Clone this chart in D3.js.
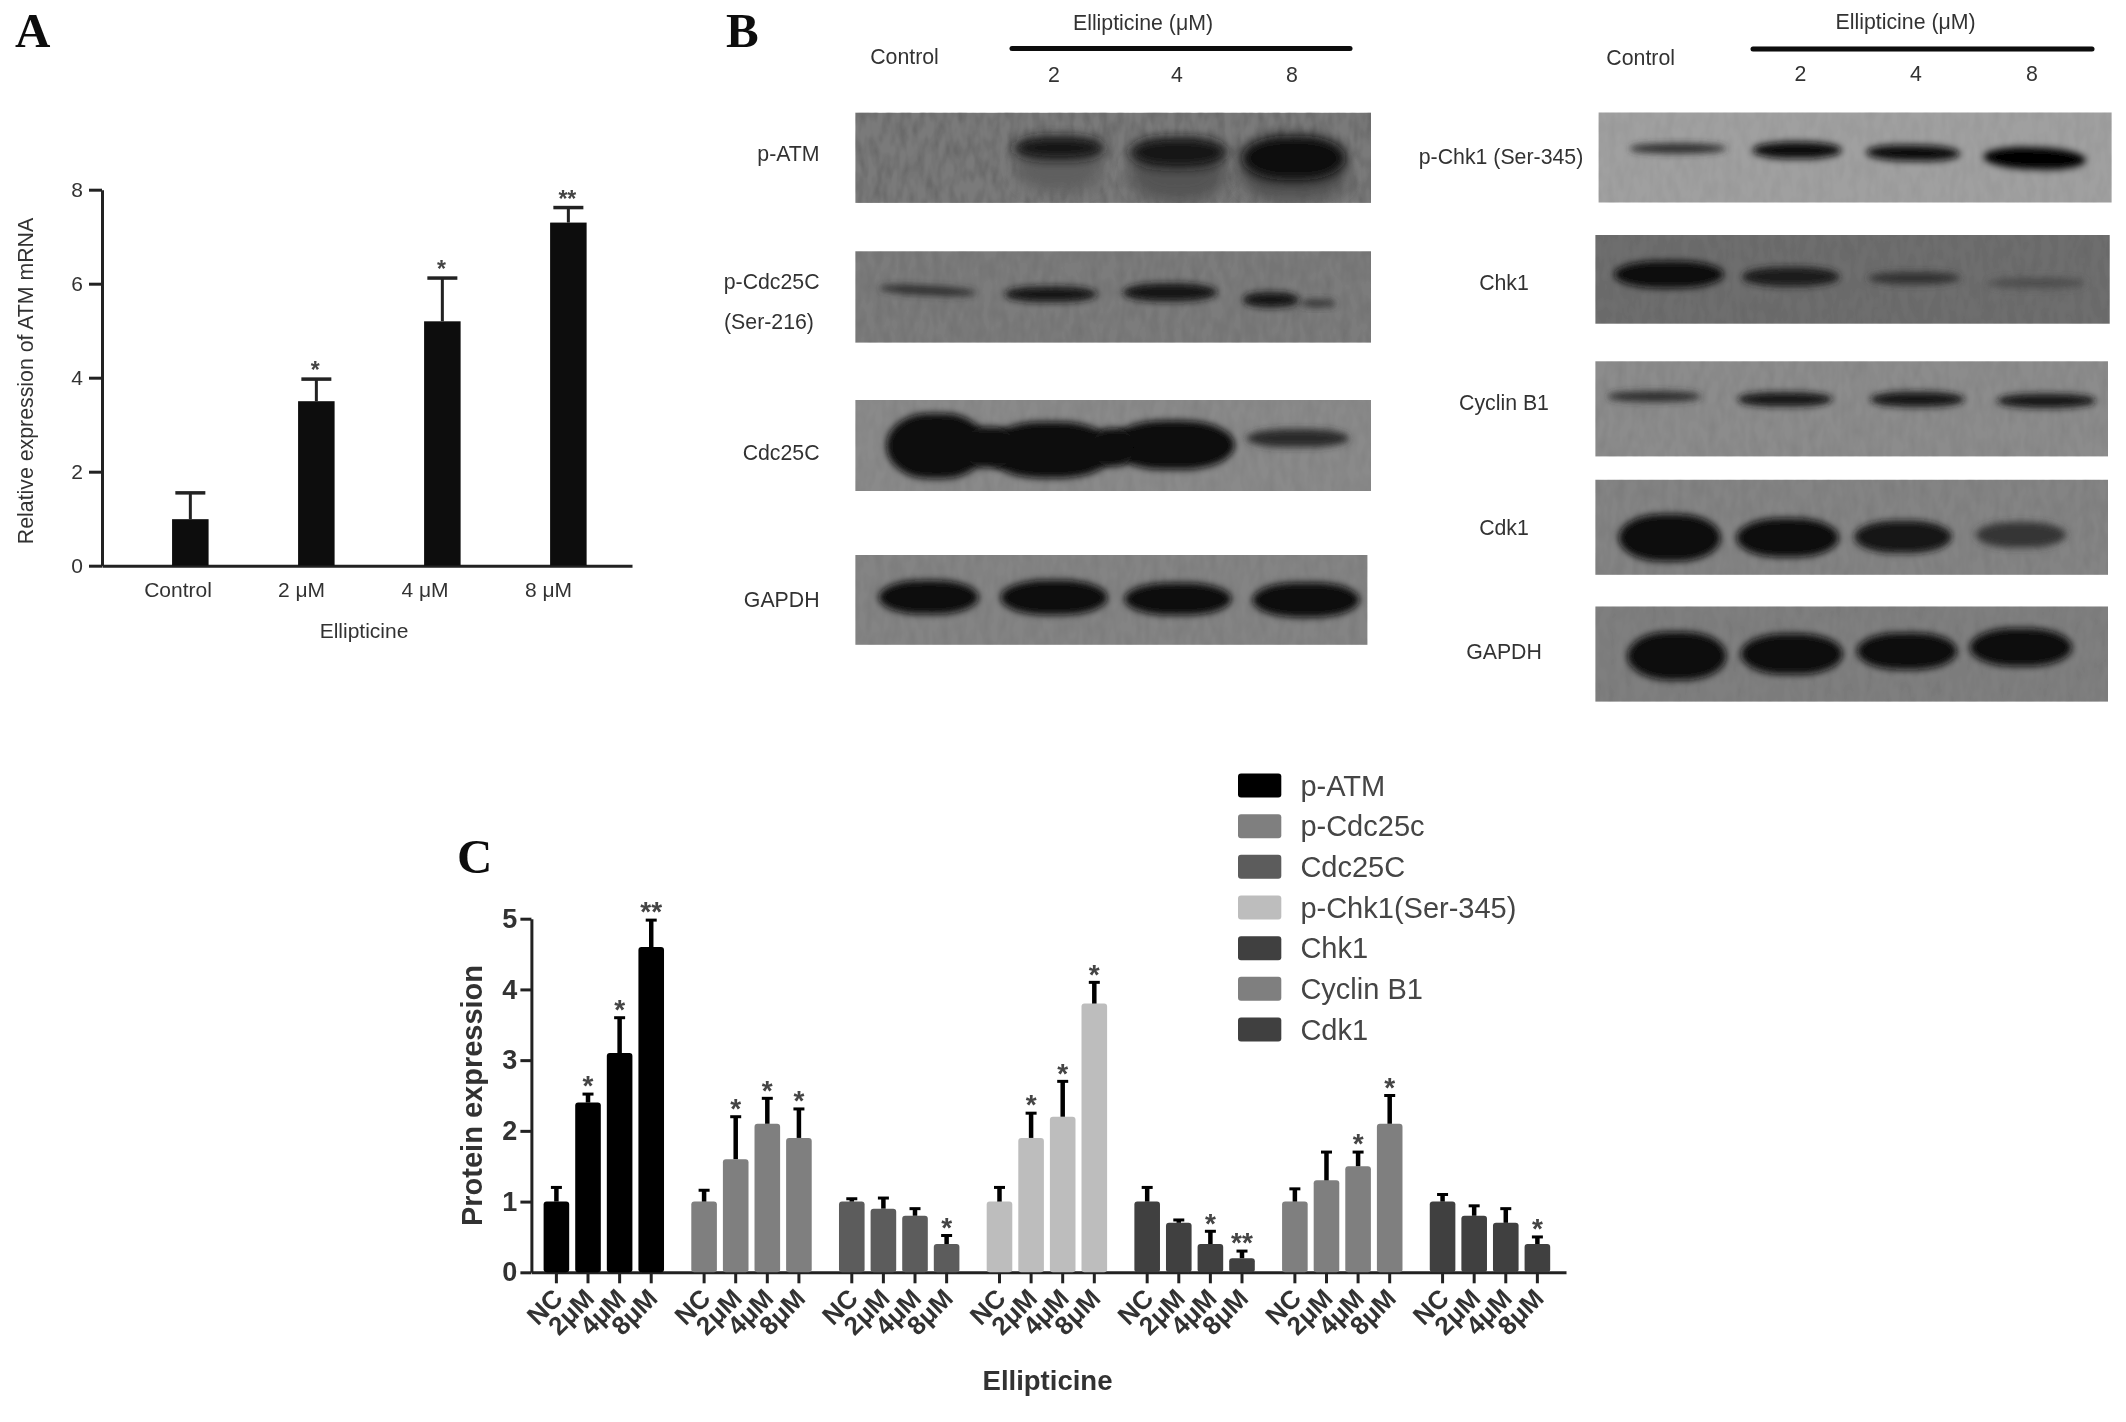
<!DOCTYPE html>
<html>
<head>
<meta charset="utf-8">
<script src="https://cdn.jsdelivr.net/npm/d3@7"></script>
<style>
  html, body { margin: 0; padding: 0; background: #fff; }
  svg { display: block; }
  text { font-family: "Liberation Sans", Arial, sans-serif; fill: #333; }
</style>
</head>
<body>
<div id="fig"></div>
<script>
// panel A
var mrnaLabels = ["Control", "2 μM", "4 μM", "8 μM"];
var mrnaValues = [0.99, 3.5, 5.2, 7.3];
var mrnaErrTop = [1.55, 3.97, 6.12, 7.62];
var mrnaStars = ["", "*", "*", "**"];
var mrnaTicks = [0, 2, 4, 6, 8];

// panel C
var proteins = ["p-ATM", "p-Cdc25c", "Cdc25C", "p-Chk1(Ser-345)", "Chk1", "Cyclin B1", "Cdk1"];
var doses = ["NC", "2μM", "4μM", "8μM"];
var proteinColors = ["#000000", "#7f7f7f", "#5c5c5c", "#bdbdbd", "#3f3f3f", "#7f7f7f", "#3f3f3f"];
var proteinValues = [
  [1.0, 2.4, 3.1, 4.6],
  [1.0, 1.6, 2.1, 1.9],
  [1.0, 0.9, 0.8, 0.4],
  [1.0, 1.9, 2.2, 3.8],
  [1.0, 0.7, 0.4, 0.2],
  [1.0, 1.3, 1.5, 2.1],
  [1.0, 0.8, 0.7, 0.4]
];
var proteinErrTop = [
  [1.2, 2.52, 3.6, 4.98],
  [1.16, 2.2, 2.46, 2.31],
  [1.04, 1.05, 0.9, 0.52],
  [1.2, 2.25, 2.7, 4.1],
  [1.2, 0.74, 0.58, 0.3],
  [1.18, 1.7, 1.7, 2.5],
  [1.1, 0.94, 0.9, 0.5]
];
var proteinStars = [
  ["", "*", "*", "**"],
  ["", "*", "*", "*"],
  ["", "", "", "*"],
  ["", "*", "*", "*"],
  ["", "", "*", "**"],
  ["", "", "*", "*"],
  ["", "", "", "*"]
];
var proteinTicks = [0, 1, 2, 3, 4, 5];

var svg = d3.select("#fig").append("svg")
  .attr("width", 2126)
  .attr("height", 1422);

var defs = svg.append("defs");
defs.append("filter").attr("id", "soft")
  .append("feGaussianBlur").attr("stdDeviation", 0.7);
function blurFilter(id, dev) {
  defs.append("filter").attr("id", id)
    .attr("x", "-30%").attr("y", "-80%").attr("width", "160%").attr("height", "260%")
    .append("feGaussianBlur").attr("stdDeviation", dev);
}
blurFilter("bandBlur", 3.6);
blurFilter("atmBlur", 5.5);
blurFilter("smearBlur", 8);
// film grain for the blots
var grain = defs.append("filter").attr("id", "grain");
grain.append("feTurbulence").attr("type", "fractalNoise")
  .attr("baseFrequency", "0.12 0.05").attr("numOctaves", 2).attr("seed", 4);
grain.append("feColorMatrix").attr("type", "matrix")
  .attr("values", "0 0 0 0 0  0 0 0 0 0  0 0 0 0 0  0 0 0 1.3 -0.45");

var page = svg.append("g").attr("filter", "url(#soft)");

function panelLetter(txt, x, y) {
  page.append("text").attr("x", x).attr("y", y)
    .style("font-family", '"Liberation Serif", serif')
    .style("font-weight", "bold")
    .style("font-size", "49px")
    .style("fill", "#111")
    .text(txt);
}
panelLetter("A", 15, 47);
panelLetter("B", 726, 47);
panelLetter("C", 457, 873);

function styleAxis(g, width) {
  g.selectAll(".domain").attr("stroke", "#222").attr("stroke-width", width);
  g.selectAll(".tick line").attr("stroke", "#222").attr("stroke-width", width);
}

// asterisks sit high in the em box, so shift the baseline down
function stars(g, x, y, txt, size) {
  g.append("text")
    .attr("x", x)
    .attr("y", y + size * 0.58)
    .attr("text-anchor", "middle")
    .style("font-size", size + "px")
    .style("font-weight", "bold")
    .style("fill", "#444")
    .text(txt);
}

// ---------- A ----------
var a = page.append("g");
var ax = d3.scaleBand().domain(mrnaLabels).range([102, 632])
  .paddingInner(0.71).paddingOuter(0.458).align(0.607);
var ay = d3.scaleLinear().domain([0, 8]).range([565.7, 189.7]);
var axLabel = d3.scalePoint().domain(mrnaLabels).range([178, 548.5]);

var ayAxis = a.append("g").attr("transform", "translate(102,0)")
  .call(d3.axisLeft(ay).tickValues(mrnaTicks).tickSize(13).tickSizeOuter(0).tickPadding(6));
styleAxis(ayAxis, 3);
ayAxis.selectAll("text").style("font-size", "21px");

var axAxis = a.append("g").attr("transform", "translate(0,565.7)")
  .call(d3.axisBottom(ax).tickSize(0).tickSizeOuter(0).tickPadding(16));
styleAxis(axAxis, 3);
axAxis.selectAll(".tick").attr("transform", function(d) { return "translate(" + axLabel(d) + ",0)"; });
axAxis.selectAll("text").style("font-size", "21px");

a.selectAll(".bar").data(mrnaLabels).enter().append("rect")
  .attr("x", function(d) { return ax(d); })
  .attr("width", ax.bandwidth())
  .attr("y", function(d, i) { return ay(mrnaValues[i]); })
  .attr("height", function(d, i) { return ay(0) - ay(mrnaValues[i]); })
  .attr("fill", "#111");

mrnaLabels.forEach(function(d, i) {
  var cx = ax(d) + ax.bandwidth() / 2;
  a.append("line").attr("x1", cx).attr("x2", cx)
    .attr("y1", ay(mrnaValues[i])).attr("y2", ay(mrnaErrTop[i]))
    .attr("stroke", "#222").attr("stroke-width", 3);
  a.append("line").attr("x1", cx - 15).attr("x2", cx + 15)
    .attr("y1", ay(mrnaErrTop[i])).attr("y2", ay(mrnaErrTop[i]))
    .attr("stroke", "#222").attr("stroke-width", 3.5);
  if (mrnaStars[i]) stars(a, cx - 1, ay(mrnaErrTop[i]) - 14, mrnaStars[i], 23);
});

a.append("text")
  .attr("transform", "translate(26,381) rotate(-90)")
  .attr("text-anchor", "middle")
  .attr("dy", "0.35em")
  .style("font-size", "21.3px")
  .text("Relative expression of ATM mRNA");
a.append("text").attr("x", 364).attr("y", 638)
  .attr("text-anchor", "middle")
  .style("font-size", "21px")
  .text("Ellipticine");

// ---------- B ----------
// frame in page px, bands as [cx%, cy%, w%, h%, tone, tilt] inside the frame,
// smears are the faint lane marks under the bands
var blotShapes = [
  { x: [855.4, 1371], y: [112.8, 202.9], bg: "#7a7a7a", grain: 0.22,
    smears: [[39.5, 60, 17, 55, "#5e5e5e", 0], [62.6, 68, 19, 62, "#525252", 0], [85, 70, 21, 55, "#505050", 0]],
    bands: [[39.5, 39, 18, 26, "#161616", 0], [62.6, 44, 19, 34, "#121212", 0], [85, 50, 20.5, 50, "#070707", 0]] },
  { x: [855.4, 1371], y: [251.3, 342.6], bg: "#7b7b7b", grain: 0.1,
    bands: [[14, 43, 19, 10, "#2c2c2c", 3], [37.9, 47, 18, 17, "#161616", 0], [61, 45, 18.4, 20, "#141414", 0],
    [80.6, 53, 11, 17, "#161616", 0], [89.7, 57, 7, 8, "#333333", 0]] },
  { x: [855.4, 1371], y: [400, 491], bg: "#8a8a8a", grain: 0.08,
    bands: [[15.7, 50.5, 19.5, 72, "#0b0b0b", 0], [37.8, 55, 25, 62, "#0b0b0b", 0], [61.6, 49.5, 24, 54, "#0d0d0d", 0],
    [26, 52, 10, 45, "#0b0b0b", 0], [50, 52, 8, 42, "#0b0b0b", 0], [85.8, 42, 20, 20, "#2c2c2c", 0]] },
  { x: [855.4, 1367.4], y: [555, 644.8], bg: "#848484", grain: 0.08,
    bands: [[14.3, 47, 19.6, 38, "#0c0c0c", 0], [38.8, 47.4, 21, 39, "#0c0c0c", 0], [63, 49, 21, 36, "#0c0c0c", 0],
    [88, 50, 21, 39, "#0c0c0c", 0]] },
  { x: [1598.6, 2111.6], y: [112.5, 202.5], bg: "#a0a0a0", grain: 0.06,
    bands: [[15.4, 40, 19, 11, "#2c2c2c", 0], [38.7, 42, 17.4, 19, "#0c0c0c", 0], [61.3, 45, 18.5, 18, "#0c0c0c", 1],
    [85, 51, 20, 24, "#050505", 2]] },
  { x: [1595.4, 2109.7], y: [235, 323.7], bg: "#6e6e6e", grain: 0.08,
    bands: [[14.3, 44.5, 21.4, 31, "#0e0e0e", 0], [38, 47, 19, 22, "#1c1c1c", 0], [62, 48.7, 18, 14, "#333333", 0],
    [85.8, 54, 19, 12, "#4e4e4e", 0]] },
  { x: [1595.4, 2108], y: [361.3, 456.4], bg: "#8c8c8c", grain: 0.08,
    bands: [[11.5, 37, 18.4, 11, "#2c2c2c", 0], [37, 40, 18.6, 15, "#181818", 0], [62.8, 40, 18.5, 16, "#181818", 0],
    [88, 41.5, 19.4, 15, "#181818", 0]] },
  { x: [1595.4, 2108], y: [479.8, 574.8], bg: "#848484", grain: 0.08,
    bands: [[14.5, 61, 20, 50, "#090909", 0], [37.5, 61, 20, 41, "#0d0d0d", 0], [60, 60, 19, 34, "#121212", 0],
    [83, 58, 17.6, 27, "#363636", 0]] },
  { x: [1595.4, 2108], y: [606.5, 701.6], bg: "#7f7f7f", grain: 0.08,
    bands: [[15.9, 52, 19.4, 51, "#0c0c0c", 0], [38.3, 50, 20, 43, "#0c0c0c", 0], [60.8, 47, 19.6, 39, "#0c0c0c", 0],
    [83, 43, 20, 40, "#0c0c0c", 0]] }
];

function drawBands(g, rows, gx, gy, w, h, filterId) {
  g.selectAll(null).data(rows).enter().append("rect")
    .attr("x", function(d) { return gx(d[0] - d[2] / 2); })
    .attr("y", function(d) { return gy(d[1] - d[3] / 2); })
    .attr("width", function(d) { return w * d[2] / 100; })
    .attr("height", function(d) { return h * d[3] / 100; })
    .attr("rx", function(d) { return w * d[2] / 100 * 0.42; })
    .attr("ry", function(d) { return h * d[3] / 100 * 0.5; })
    .attr("fill", function(d) { return d[4]; })
    .attr("transform", function(d) { return "rotate(" + d[5] + " " + gx(d[0]) + " " + gy(d[1]) + ")"; })
    .attr("filter", "url(#" + filterId + ")");
}

blotShapes.forEach(function(b, k) {
  var gx = d3.scaleLinear().domain([0, 100]).range(b.x);
  var gy = d3.scaleLinear().domain([0, 100]).range(b.y);
  var w = b.x[1] - b.x[0], h = b.y[1] - b.y[0];
  defs.append("clipPath").attr("id", "clip" + k).append("rect")
    .attr("x", b.x[0]).attr("y", b.y[0]).attr("width", w).attr("height", h);
  var g = page.append("g").attr("clip-path", "url(#clip" + k + ")");
  g.append("rect").attr("x", b.x[0]).attr("y", b.y[0]).attr("width", w).attr("height", h).attr("fill", b.bg);
  g.append("rect").attr("x", b.x[0]).attr("y", b.y[0]).attr("width", w).attr("height", h)
    .attr("filter", "url(#grain)").attr("opacity", b.grain);
  if (b.smears) drawBands(g, b.smears, gx, gy, w, h, "smearBlur");
  drawBands(g, b.bands, gx, gy, w, h, b.smears ? "atmBlur" : "bandBlur");
});

function blotText(txt, x, y, anchor) {
  page.append("text").attr("x", x).attr("y", y).attr("dy", "0.35em")
    .attr("text-anchor", anchor || "middle")
    .style("font-size", "21.3px")
    .text(txt);
}
function treatmentHeader(titleX, titleY, barX, barY, ctrlX, ctrlY, xs, numY) {
  blotText("Ellipticine (μM)", titleX, titleY);
  page.append("line").attr("x1", barX[0]).attr("x2", barX[1]).attr("y1", barY).attr("y2", barY)
    .attr("stroke", "#0a0a0a").attr("stroke-width", 5).attr("stroke-linecap", "round");
  blotText("Control", ctrlX, ctrlY);
  xs.forEach(function(x, i) { blotText(["2", "4", "8"][i], x, numY); });
}
treatmentHeader(1143, 23, [1012, 1350], 48.4, 904.5, 56.4, [1054, 1177, 1292], 74.5);
treatmentHeader(1905.6, 21.6, [1753, 2092], 49, 1640.7, 57.4, [1800.5, 1916, 2032], 73.5);

blotText("p-ATM", 819.6, 154, "end");
blotText("p-Cdc25C", 819.6, 282, "end");
blotText("(Ser-216)", 724, 322, "start");
blotText("Cdc25C", 819.6, 452.4, "end");
blotText("GAPDH", 819.6, 600, "end");
blotText("p-Chk1 (Ser-345)", 1501, 157);
blotText("Chk1", 1504, 282.4);
blotText("Cyclin B1", 1504, 403);
blotText("Cdk1", 1504, 528);
blotText("GAPDH", 1504, 652);

// ---------- C ----------
var c = page.append("g");
var cyBase = 1272.3;
var cx0 = d3.scaleBand().domain(proteins).range([531.4, 1566])
  .paddingInner(0.144).paddingOuter(0.0745).align(0.418);
var cx1 = d3.scaleBand().domain(doses).range([0, cx0.bandwidth()])
  .paddingInner(0.19).paddingOuter(0.095);
var cy = d3.scaleLinear().domain([0, 5]).range([cyBase, 918.7]);

var cyAxis = c.append("g").attr("transform", "translate(531.4,0)")
  .call(d3.axisLeft(cy).tickValues(proteinTicks).tickFormat(d3.format("d")).tickSize(11).tickSizeOuter(0).tickPadding(3));
styleAxis(cyAxis, 3);
cyAxis.selectAll("text").style("font-size", "27px").style("font-weight", "bold");

var cxBase = c.append("g").attr("transform", "translate(0," + cyBase + ")")
  .call(d3.axisBottom(cx0).tickValues([]).tickSizeOuter(0));
styleAxis(cxBase, 3);

proteins.forEach(function(p, i) {
  var g = c.append("g").attr("transform", "translate(" + cx0(p) + ",0)");

  var tickAxis = g.append("g").attr("transform", "translate(0," + cyBase + ")")
    .call(d3.axisBottom(cx1).tickSize(11).tickSizeOuter(0));
  tickAxis.select(".domain").remove();
  styleAxis(tickAxis, 3);
  tickAxis.selectAll("text")
    .attr("x", -14).attr("y", 16).attr("dy", "0.35em")
    .attr("text-anchor", "end")
    .attr("transform", "rotate(-45)")
    .style("font-size", "26px")
    .style("font-weight", "bold");

  g.selectAll(".bar").data(doses).enter().append("rect")
    .attr("x", function(d) { return cx1(d); })
    .attr("width", cx1.bandwidth())
    .attr("y", function(d, j) { return cy(proteinValues[i][j]); })
    .attr("height", function(d, j) { return cyBase - cy(proteinValues[i][j]); })
    .attr("rx", 3)
    .attr("fill", proteinColors[i]);

  doses.forEach(function(d, j) {
    var mid = cx1(d) + cx1.bandwidth() / 2;
    var top = cy(proteinErrTop[i][j]);
    g.append("line").attr("x1", mid).attr("x2", mid)
      .attr("y1", cy(proteinValues[i][j])).attr("y2", top)
      .attr("stroke", "#000").attr("stroke-width", 4.5);
    g.append("line").attr("x1", mid - 5.5).attr("x2", mid + 5.5)
      .attr("y1", top).attr("y2", top)
      .attr("stroke", "#000").attr("stroke-width", 3);
    if (proteinStars[i][j]) stars(g, mid, top - 15, proteinStars[i][j], 28);
  });
});

c.append("text")
  .attr("transform", "translate(472,1095.5) rotate(-90)")
  .attr("text-anchor", "middle")
  .attr("dy", "0.35em")
  .style("font-size", "29px")
  .style("font-weight", "bold")
  .text("Protein expression");
c.append("text").attr("x", 1047.5).attr("y", 1390)
  .attr("text-anchor", "middle")
  .style("font-size", "27.5px")
  .style("font-weight", "bold")
  .text("Ellipticine");

// legend
var legendY = d3.scalePoint().domain(proteins).range([785.5, 1029.5]);
var legend = page.selectAll(".legend").data(proteins).enter().append("g")
  .attr("transform", function(d) { return "translate(1238," + legendY(d) + ")"; });
legend.append("rect")
  .attr("x", 0).attr("y", -12).attr("width", 43.3).attr("height", 24).attr("rx", 3)
  .attr("fill", function(d, i) { return proteinColors[i]; });
legend.append("text")
  .attr("x", 62.4).attr("dy", "0.35em")
  .style("font-size", "29px")
  .style("fill", "#444")
  .text(function(d) { return d; });
</script>
</body>
</html>
